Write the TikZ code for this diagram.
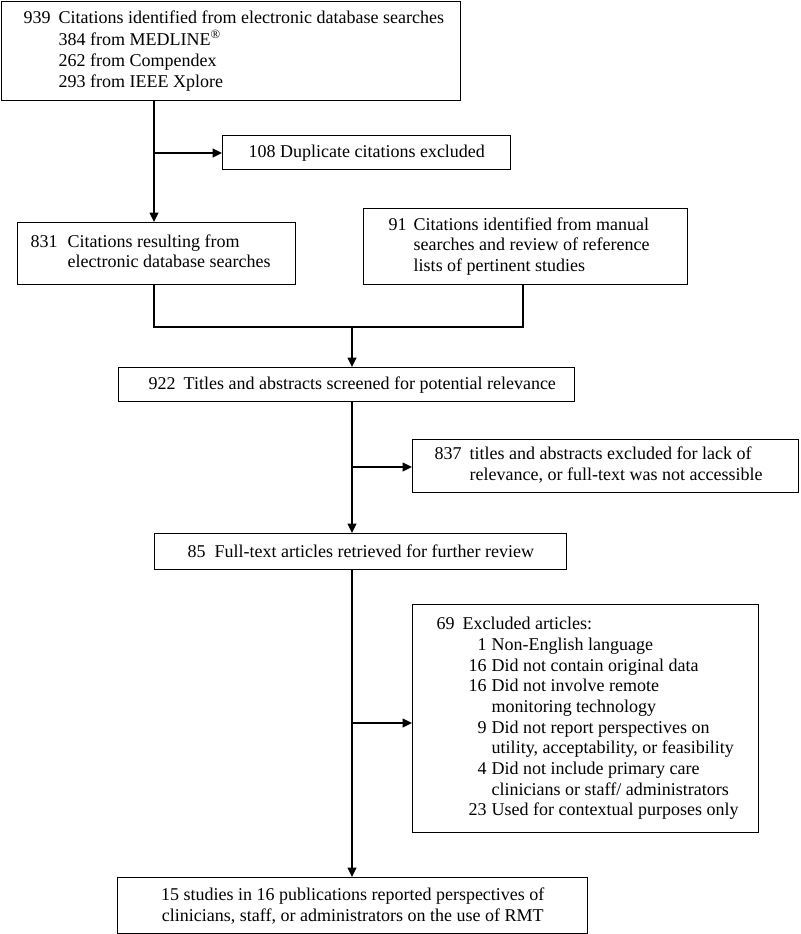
\documentclass[tikz,border=0pt]{standalone}
\usepackage{fontspec}
\setmainfont{Liberation Serif}
\usetikzlibrary{arrows.meta}
\begin{document}
\begin{tikzpicture}[x=0.75pt,y=-0.75pt,
  box/.style={draw, line width=1.1pt, rectangle, anchor=north west, inner sep=0pt,
    font=\fontsize{13.5pt}{15.5pt}\selectfont},
  conn/.style={line width=1.1pt},
  arr/.style={conn, -{Triangle[length=7pt,width=6.5pt]}}]
\useasboundingbox (0,0) rectangle (800,934);

\node[box, minimum width=344.25pt, minimum height=74.25pt,
  font=\fontsize{13.5pt}{15.75pt}\selectfont] (top) at (1,1)
  {\makebox[344.25pt][l]{\hspace*{16.5pt}\begin{tabular}{@{}l@{\hspace{6pt}}l@{}}
   939 & Citations identified from electronic database searches\\
       & 384 from MEDLINE\textsuperscript{\textregistered}\\
       & 262 from Compendex\\
       & 293 from IEEE Xplore\end{tabular}}};

\node[box, minimum width=216pt, minimum height=25.5pt] (dup) at (222,135)
  {108 Duplicate citations excluded};

\node[box, minimum width=208.5pt, minimum height=46.5pt,
  font=\fontsize{13.5pt}{15pt}\selectfont] (n831) at (17,222)
  {\makebox[208.5pt][l]{\hspace*{9.75pt}\begin{tabular}{@{}l@{\hspace{7.5pt}}l@{}}
   831 & Citations resulting from\\
       & electronic database searches\end{tabular}}};

\node[box, minimum width=243pt, minimum height=57pt] (n91) at (363,208)
  {\makebox[243pt][l]{\hspace*{18.75pt}\begin{tabular}{@{}l@{\hspace{5.25pt}}l@{}}
   91 & Citations identified from manual\\
      & searches and review of reference\\
      & lists of pertinent studies\end{tabular}}};

\node[box, minimum width=342pt, minimum height=25.5pt] (n922) at (118,367)
  {\makebox[342pt][l]{\hspace*{22.5pt}922\hspace{6pt}Titles and abstracts screened for potential relevance}};

\node[box, minimum width=289.5pt, minimum height=39.75pt,
  font=\fontsize{13.5pt}{15.75pt}\selectfont] (n837) at (412,439)
  {\makebox[289.5pt][l]{\hspace*{16.5pt}\begin{tabular}{@{}l@{\hspace{6pt}}l@{}}
   837 & titles and abstracts excluded for lack of\\
       & relevance, or full-text was not accessible\end{tabular}}};

\node[box, minimum width=309pt, minimum height=27pt] (n85) at (154,533)
  {\makebox[309pt][l]{\hspace*{24.75pt}85\hspace{6.75pt}Full-text articles retrieved for further review}};

\node[box, minimum width=259.5pt, minimum height=171pt] (n69) at (412,604)
  {\makebox[259.5pt][l]{\hspace*{18pt}\begin{tabular}{@{}r@{\hspace{3.75pt}}l@{}}
   \multicolumn{2}{@{}l@{}}{69\hspace{6pt}Excluded articles:}\\
   \makebox[37.5pt][r]{1} & Non-English language\\
   \makebox[37.5pt][r]{16} & Did not contain original data\\
   \makebox[37.5pt][r]{16} & Did not involve remote\\
    & monitoring technology\\
   \makebox[37.5pt][r]{9} & Did not report perspectives on\\
    & utility, acceptability, or feasibility\\
   \makebox[37.5pt][r]{4} & Did not include primary care\\
    & clinicians or staff/ administrators\\
   \makebox[37.5pt][r]{23} & Used for contextual purposes only\end{tabular}}};

\node[box, minimum width=352.5pt, minimum height=42pt, align=center] (n15) at (117,877)
  {15 studies in 16 publications reported perspectives of\\
   clinicians, staff, or administrators on the use of RMT};

% junction points
\coordinate (j1) at (154,153);
\coordinate (m1) at (154,327);
\coordinate (m2) at (523,327);
\coordinate (m3) at (352,327);
\coordinate (j2) at (352,467);
\coordinate (j3) at (352,723);

\draw[arr] (top.south -| j1) -- (n831.north -| j1);
\draw[arr] (j1) -- (j1 -| dup.west);
\draw[conn] (n831.south -| m1) -- (m1) -- (m2) -- (n91.south -| m2);
\draw[arr] (m3) -- (n922.north -| m3);
\draw[arr] (n922.south -| j2) -- (n85.north -| j2);
\draw[arr] (j2) -- (j2 -| n837.west);
\draw[arr] (n85.south -| j3) -- (n15.north -| j3);
\draw[arr] (j3) -- (j3 -| n69.west);
\end{tikzpicture}
\end{document}
